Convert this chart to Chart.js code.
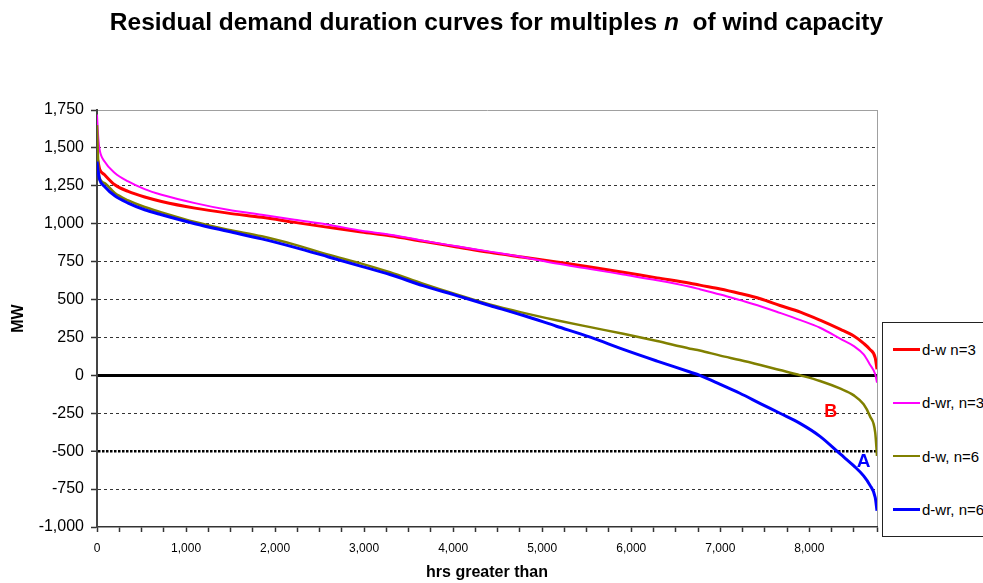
<!DOCTYPE html>
<html>
<head>
<meta charset="utf-8">
<script src="https://cdn.jsdelivr.net/npm/chart.js@4.4.0/dist/chart.umd.min.js"></script>
<style>
  html, body { margin: 0; padding: 0; background: #fff; overflow: hidden; }
  #wrap { position: relative; width: 983px; height: 583px; }
  #chart { position: absolute; left: 0; top: 0; }
  #title { position: absolute; left: 5px; top: 8px; width: 983px; text-align: center; line-height: 28px;
           font: bold 24.5px "Liberation Sans", Arial, sans-serif; color: #000; white-space: nowrap; }
  #legend { position: absolute; left: 882px; top: 322px; width: 130px; height: 215px;
            border: 1px solid #222; box-sizing: border-box; background: #fff;
            display: flex; flex-direction: column; justify-content: space-around; }
  .item { display: flex; align-items: center; font: 15px "Liberation Sans", Arial, sans-serif; color: #000; white-space: nowrap; }
  .swatch { display: inline-block; width: 27px; margin-left: 10px; margin-right: 2px; }
</style>
</head>
<body>
<div id="wrap">
  <canvas id="chart" width="983" height="583"></canvas>
  <div id="title">Residual demand duration curves for multiples <i>n</i> &nbsp;of wind capacity</div>
  <div id="legend"></div>
</div>
<script>
document.addEventListener('DOMContentLoaded', function() {

    // hours in the year for which demand is greater than the value
    const hours = [0, 15, 30, 85, 200, 350, 535, 725, 1100, 1470, 1850, 2220, 2600, 2970,
                   3290, 3660, 4040, 4410, 4790, 5160, 5540, 5910, 6290, 6660,
                   6770, 7000, 7220, 7450, 7670, 7900, 8120, 8350, 8500, 8610, 8680, 8740, 8760];

    const dwN3 = [1440, 1400, 1360, 1323, 1257, 1213, 1176, 1147, 1103, 1070, 1042, 1009, 976, 945,
                  921, 884, 847, 811, 779, 748, 715, 680, 643, 608,
                  595, 570, 540, 505, 461, 417, 364, 303, 259, 211, 171, 116, 40];

    const dwrN3 = [1720, 1560, 1487, 1410, 1335, 1279, 1228, 1191, 1136, 1092, 1059, 1026, 993, 954,
                   928, 888, 851, 816, 779, 737, 702, 665, 627, 584,
                   568, 533, 496, 456, 412, 364, 314, 241, 193, 138, 72, 7, -48];

    const dwN6 = [1650, 1380, 1300, 1268, 1202, 1154, 1110, 1075, 1011, 961, 917, 862, 796, 737,
                  680, 605, 533, 467, 412, 364, 318, 274, 226, 176,
                  164, 130, 101, 68, 35, 0, -37, -88, -132, -191, -268, -377, -531];

    const dwrN6 = [1410, 1336, 1290, 1246, 1184, 1136, 1092, 1059, 1000, 950, 900, 844, 781, 719,
                   665, 592, 526, 461, 395, 324, 252, 171, 94, 22,
                   0, -59, -118, -186, -250, -318, -402, -520, -597, -663, -724, -805, -893];

    const yTicks = [-1000, -750, -500, -250, 0, 250, 500, 750, 1000, 1250, 1500, 1750];
    const xTicks = [0, 250, 500, 750, 1000, 1250, 1500, 1750, 2000, 2250, 2500, 2750, 3000,
                    3250, 3500, 3750, 4000, 4250, 4500, 4750, 5000, 5250, 5500, 5750, 6000,
                    6250, 6500, 6750, 7000, 7250, 7500, 7750, 8000, 8250, 8500, 8760];

    const notes = [
        { text: 'B', x: 8240, y: -245, color: '#FF0000', size: 18 },
        { text: 'A', x: 8610, y: -568, color: '#0000FF', size: 19 }
    ];

    const FONT = '"Liberation Sans", Arial, sans-serif';

    function pts(arr) {
        return hours.map((h, i) => ({ x: h, y: arr[i] }));
    }

    function line(label, arr, color, width, order) {
        return {
            label: label,
            data: pts(arr),
            borderColor: color,
            backgroundColor: color,
            borderWidth: width,
            pointRadius: 0,
            fill: false,
            cubicInterpolationMode: 'monotone',
            order: order
        };
    }

    const notePlugin = {
        id: 'notes',
        afterDatasetsDraw(chart) {
            const { ctx, scales: { x, y } } = chart;
            ctx.save();
            ctx.textAlign = 'center';
            ctx.textBaseline = 'middle';
            notes.forEach(n => {
                ctx.font = 'bold ' + n.size + 'px ' + FONT;
                ctx.fillStyle = n.color;
                ctx.fillText(n.text, x.getPixelForValue(n.x), y.getPixelForValue(n.y));
            });
            ctx.restore();
        }
    };

    function tickVal(c) { return c.tick ? c.tick.value : null; }

    const ctx = document.getElementById('chart').getContext('2d');
    const chart = new Chart(ctx, {
        type: 'line',
        data: {
            datasets: [
                line('d-w n=3', dwN3, '#FF0000', 3, 3),
                line('d-wr, n=3', dwrN3, '#FF00FF', 2, 2),
                line('d-w, n=6', dwN6, '#808000', 2.5, 1),
                line('d-wr, n=6', dwrN6, '#0000FF', 3, 0)
            ]
        },
        options: {
            responsive: false,
            animation: false,
            devicePixelRatio: 1,
            layout: { padding: { left: 0, right: 106, top: 110, bottom: 0 } },
            plugins: {
                legend: { display: false },
                title: { display: false },
                tooltip: { enabled: false }
            },
            scales: {
                x: {
                    type: 'linear',
                    min: 0,
                    max: 8760,
                    afterBuildTicks: s => { s.ticks = xTicks.map(v => ({ value: v })); },
                    afterFit: s => { s.height = 56; },
                    ticks: {
                        autoSkip: false,
                        maxRotation: 0,
                        padding: 9,
                        color: '#000',
                        font: { family: FONT, size: 12 },
                        callback: v => (v % 1000 === 0 ? v.toLocaleString('en-US') : '')
                    },
                    grid: {
                        color: c => (tickVal(c) === 8760 ? '#a0a0a0' : 'rgba(0,0,0,0)'),
                        lineWidth: 1,
                        tickColor: '#333',
                        tickLength: 5,
                        tickWidth: 1.5
                    },
                    border: { color: '#333', width: 1.5 },
                    title: {
                        display: true,
                        text: 'hrs greater than',
                        color: '#000',
                        font: { family: FONT, size: 16, weight: 'bold' },
                        padding: { top: 0, bottom: 1 }
                    }
                },
                y: {
                    min: -1000,
                    max: 1750,
                    afterBuildTicks: s => { s.ticks = yTicks.map(v => ({ value: v })); },
                    afterFit: s => { s.width = 97; },
                    ticks: {
                        padding: 7,
                        color: '#000',
                        font: { family: FONT, size: 16 },
                        callback: v => v.toLocaleString('en-US')
                    },
                    grid: {
                        color: c => {
                            const v = tickVal(c);
                            if (v === 1750) return '#a0a0a0';
                            if (v === -1000) return 'rgba(0,0,0,0)';
                            if (v === 0 || v === -500) return '#000';
                            return '#333';
                        },
                        lineWidth: c => {
                            const v = tickVal(c);
                            if (v === 0) return 3;
                            if (v === -500) return 2.5;
                            return 1;
                        },
                        tickColor: '#333',
                        tickLength: 6,
                        tickWidth: 1.5
                    },
                    border: {
                        color: '#444',
                        width: 2,
                        dash: c => {
                            const v = tickVal(c);
                            if (v === null || v === 0 || v === 1750) return [];
                            if (v === -500) return [2.5, 1.5];
                            return [3, 3];
                        }
                    },
                    title: {
                        display: true,
                        text: 'MW',
                        color: '#000',
                        font: { family: FONT, size: 16, weight: 'bold' },
                        padding: { top: 9, bottom: 0 }
                    }
                }
            }
        },
        plugins: [notePlugin]
    });

    // legend box built from the datasets
    const legend = document.getElementById('legend');
    chart.data.datasets.forEach(ds => {
        const item = document.createElement('div');
        item.className = 'item';
        const sw = document.createElement('span');
        sw.className = 'swatch';
        sw.style.height = ds.borderWidth + 'px';
        sw.style.background = ds.borderColor;
        item.appendChild(sw);
        item.appendChild(document.createTextNode(ds.label));
        legend.appendChild(item);
    });

});
</script>
</body>
</html>
